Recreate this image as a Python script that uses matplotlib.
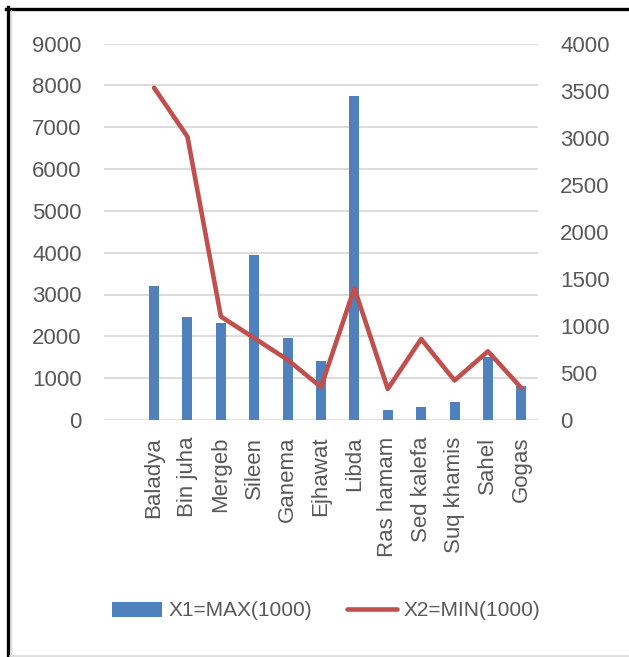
import matplotlib
matplotlib.use("Agg")
import matplotlib.pyplot as plt
from matplotlib.lines import Line2D

plt.rcParams['font.family'] = ['Liberation Sans', 'DejaVu Sans']

categories = ["Baladya", "Bin juha", "Mergeb", "Sileen", "Ganema", "Ejhawat",
              "Libda", "Ras hamam", "Sed kalefa", "Suq khamis", "Sahel", "Gogas"]
x1_max = [3200, 2460, 2330, 3950, 1950, 1400, 7750, 230, 300, 440, 1500, 820]
x2_min = [3530, 3010, 1100, 870, 640, 350, 1400, 330, 860, 420, 730, 340]
left_ticks = [0, 1000, 2000, 3000, 4000, 5000, 6000, 7000, 8000, 9000]
right_ticks = [0, 500, 1000, 1500, 2000, 2500, 3000, 3500, 4000]

W, H = 629, 657
fig = plt.figure(figsize=(W / 100, H / 100), dpi=100)
ax = fig.add_axes([104 / W, 1 - 420 / H, (538 - 104) / W, (420 - 43.5) / H])
ax2 = ax.twinx()

tc = '#595959'
fs = 16
xs = list(range(len(categories)))
bars = ax.bar(xs, x1_max, width=0.3, color='#4F81BD', zorder=2,
              label='X1=MAX(1000)')
line, = ax2.plot(xs, x2_min, color='#C0504D', lw=3.3,
                 solid_joinstyle='round', solid_capstyle='round',
                 label='X2=MIN(1000)')

ax.set_xlim(-1.5, 11.5)
ax.set_ylim(0, 9000)
ax2.set_ylim(0, 4000)
ax.set_yticks(left_ticks)
ax2.set_yticks(right_ticks)
ax.yaxis.grid(True, color='#D9D9D9', lw=1.3)
ax.set_axisbelow(True)
ax.set_xticks(xs)
ax.set_xticklabels(categories, rotation=90, fontsize=fs, color=tc, va='top', ha='center')
ax.tick_params(axis='x', length=0, pad=12)
ax.tick_params(axis='y', length=0, pad=16, labelsize=fs, labelcolor=tc)
ax2.tick_params(axis='y', length=0, pad=16, labelsize=fs, labelcolor=tc)
for a in (ax, ax2):
    for s in a.spines.values():
        s.set_visible(False)

fig.legend(handles=[bars, line], labels=['X1=MAX(1000)', 'X2=MIN(1000)'],
           loc='center', bbox_to_anchor=(326 / W, 1 - 611 / H), ncol=2,
           frameon=False, fontsize=15, handlelength=2.4, handletextpad=0.3,
           columnspacing=1.7, labelcolor=tc)

# outer frame
fig.add_artist(Line2D([7.5 / W, 7.5 / W], [0, 1 - 7 / H], color='black', lw=2.4,
                      transform=fig.transFigure))
fig.add_artist(Line2D([6 / W, 1], [1 - 8.5 / H, 1 - 8.5 / H], color='black', lw=2.4,
                      transform=fig.transFigure))
fig.add_artist(Line2D([10.5 / W, 10.5 / W], [0, 1 - 10 / H], color='#D9D9D9', lw=1,
                      transform=fig.transFigure))
fig.add_artist(Line2D([10 / W, 1], [1.5 / H, 1.5 / H], color='#D9D9D9', lw=1.2,
                      transform=fig.transFigure))

fig.savefig('out.png', dpi=100)
